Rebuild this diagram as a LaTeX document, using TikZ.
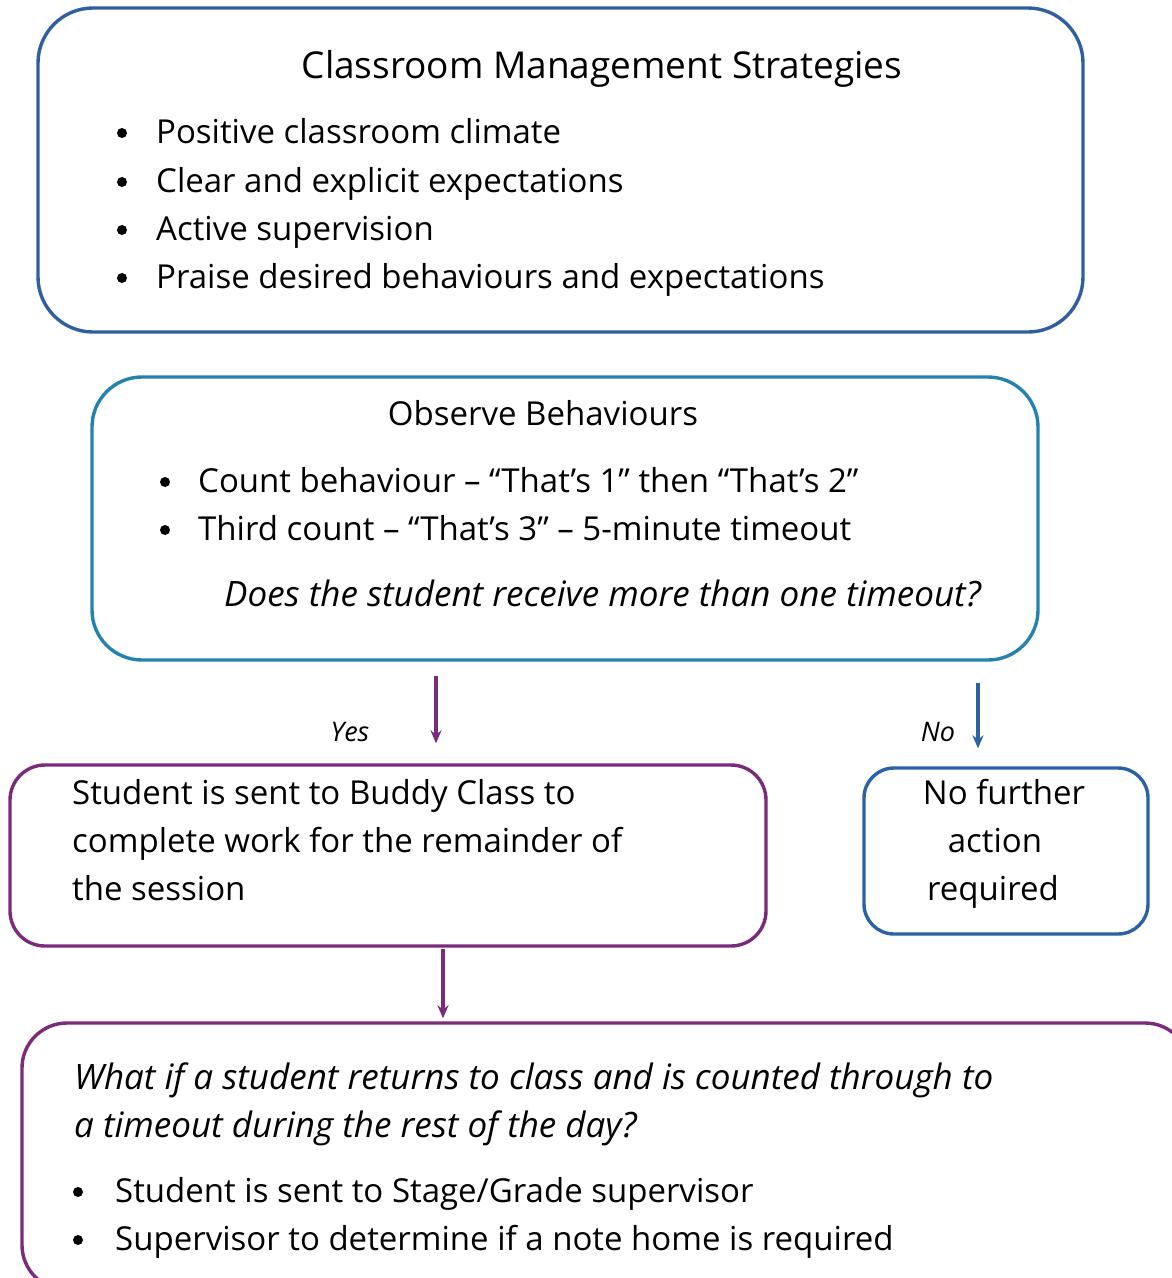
\documentclass[tikz,border=0pt]{standalone}
\usepackage{fontspec}
\setmainfont{Open Sans}
\usetikzlibrary{arrows.meta,calc}
\definecolor{cblue}{HTML}{2F5F9F}
\definecolor{cteal}{HTML}{2383AC}
\definecolor{cpurple}{HTML}{7B2B7C}
\definecolor{cblueb}{HTML}{2A62A4}
\begin{document}
\begin{tikzpicture}[x=1pt,y=-1pt]
\tikzset{
  boxline/.style={draw, line width=3.4pt, rounded corners=#1, inner sep=0pt},
  txt/.style={font=\fontsize{33}{38}\selectfont, inner sep=0pt, anchor=base west},
  ctxt/.style={font=\fontsize{33}{38}\selectfont, inner sep=0pt, anchor=base},
  itxt/.style={font=\fontsize{35}{40}\selectfont\itshape, inner sep=0pt, anchor=base west},
  lbl/.style={font=\fontsize{27}{30}\selectfont\itshape, inner sep=0pt, anchor=base},
  blt/.style={circle, fill=black, inner sep=0pt, minimum size=10pt},
  arr/.style={line width=3.2pt, -{Stealth[length=13pt,width=11pt]}}
}
\useasboundingbox (0,0) rectangle (1171,1278);
\fill[white] (0,0) rectangle (1171,1278);

% boxes
\node[boxline=55pt, draw=cblue, minimum width=1045pt, minimum height=324pt] (b1) at (560.5,170) {};
\node[boxline=50pt, draw=cteal, minimum width=946pt, minimum height=283pt] (b2) at (565,518.5) {};
\node[boxline=35pt, draw=cpurple, minimum width=756pt, minimum height=181pt] (b3) at (388,855.5) {};
\node[boxline=30pt, draw=cblueb, minimum width=284pt, minimum height=166pt] (b4) at (1006,851) {};
\node[boxline=45pt, draw=cpurple, minimum width=1168pt, minimum height=267pt] (b5) at (606,1156.5) {};

% box 1 text
\node[ctxt, font=\fontsize{37}{42}\selectfont] (t1) at (602,78) {Classroom Management Strategies};
\node[blt] (b1a) at (122,133) {};
\node[blt] (b1b) at (122,182) {};
\node[blt] (b1c) at (122,230) {};
\node[blt] (b1d) at (122,278) {};
\node[txt] (l1a) at (156,143) {Positive classroom climate};
\node[txt] (l1b) at (156,192) {Clear and explicit expectations};
\node[txt] (l1c) at (156,240) {Active supervision};
\node[txt] (l1d) at (156,288) {Praise desired behaviours and expectations};

% box 2 text
\node[ctxt] (t2) at (543,425) {Observe Behaviours};
\node[blt] (b2a) at (165,482) {};
\node[blt] (b2b) at (165,530) {};
\node[txt] (l2a) at (198,492) {Count behaviour – “That’s 1” then “That’s 2”};
\node[txt] (l2b) at (198,540) {Third count – “That’s 3” – 5-minute timeout};
\node[itxt] (q2) at (224,606) {Does the student receive more than one timeout?};

% box 3 text
\node[txt] (l3a) at (72,804) {Student is sent to Buddy Class to};
\node[txt] (l3b) at (72,852) {complete work for the remainder of};
\node[txt] (l3c) at (72,900) {the session};

% box 4 text
\node[ctxt] (l4a) at (1004,804) {No further};
\node[ctxt] (l4b) at (995,852) {action};
\node[ctxt] (l4c) at (993,900) {required};

% box 5 text
\node[itxt] (q5a) at (74,1089) {What if a student returns to class and is counted through to};
\node[itxt] (q5b) at (74,1137) {a timeout during the rest of the day?};
\node[blt] (b5a) at (78,1192) {};
\node[blt] (b5b) at (78,1240) {};
\node[txt] (l5a) at (115,1202) {Student is sent to Stage/Grade supervisor};
\node[txt] (l5b) at (115,1250) {Supervisor to determine if a note home is required};

% connectors
\coordinate (ya) at (436,0);
\coordinate (na) at (978,0);
\coordinate (da) at (443,0);
\draw[arr, draw=cpurple, shorten <=14pt, shorten >=20pt] (b2.south -| ya) -- (b3.north -| ya);
\draw[arr, draw=cblueb, shorten <=21pt, shorten >=18pt] (b2.south -| na) -- (b4.north -| na);
\draw[arr, draw=cpurple, shorten <=1pt, shorten >=3pt] (b3.south -| da) -- (b5.north -| da);
\node[lbl] (yes) at (350,741) {Yes};
\node[lbl] (no) at (938,741) {No};
\end{tikzpicture}
\end{document}
